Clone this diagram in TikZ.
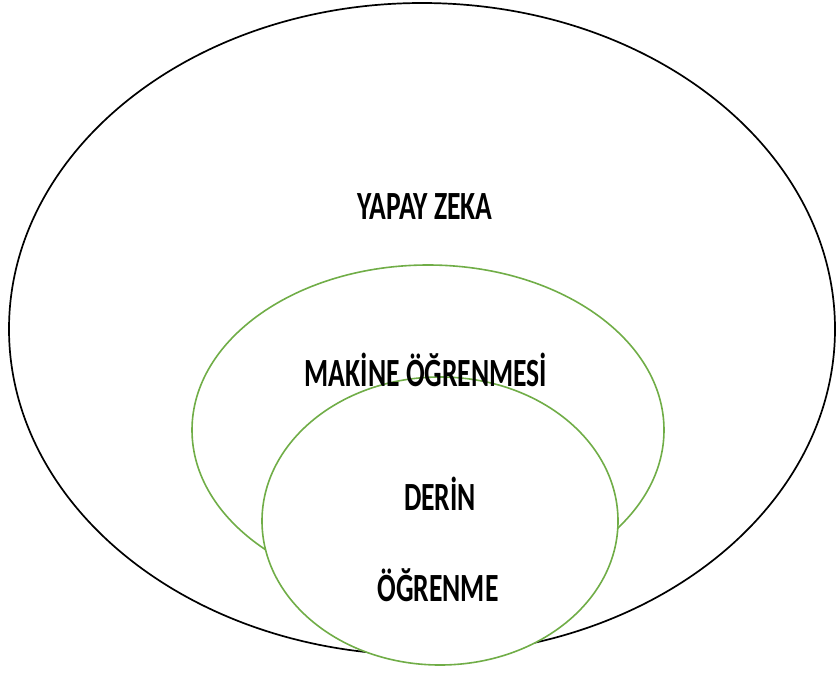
\documentclass[tikz,border=0pt]{standalone}
\usepackage{fontspec}
\newfontfamily\labelfont[FakeStretch=0.69]{Carlito}
\definecolor{SetGreen}{HTML}{70AD47}

\begin{document}
\begin{tikzpicture}[x=1pt, y=-1pt,
    outerring/.style={draw=black, line width=1.7pt},
    greenring/.style={draw=SetGreen, line width=1.6pt},
    setlabel/.style={font=\labelfont\bfseries\fontsize{40}{44}\selectfont, inner sep=0pt}
]
\useasboundingbox (0,0) rectangle (836,673);

% nested sets
\draw[outerring] (422,329) ellipse [x radius=413, y radius=326];
\draw[greenring] (428,430) ellipse [x radius=236, y radius=165];
\draw[greenring, fill=white] (440,521) ellipse [x radius=178, y radius=144];

\node[setlabel] (ai) at (425,207) {YAPAY ZEKA};
\node[setlabel] (ml) at (426,370) {MAKİNE ÖĞRENMESİ};
\node[setlabel] (dl1) at (440,494) {DERİN};
\node[setlabel] (dl2) at (438,585) {ÖĞRENME};
\end{tikzpicture}
\end{document}
